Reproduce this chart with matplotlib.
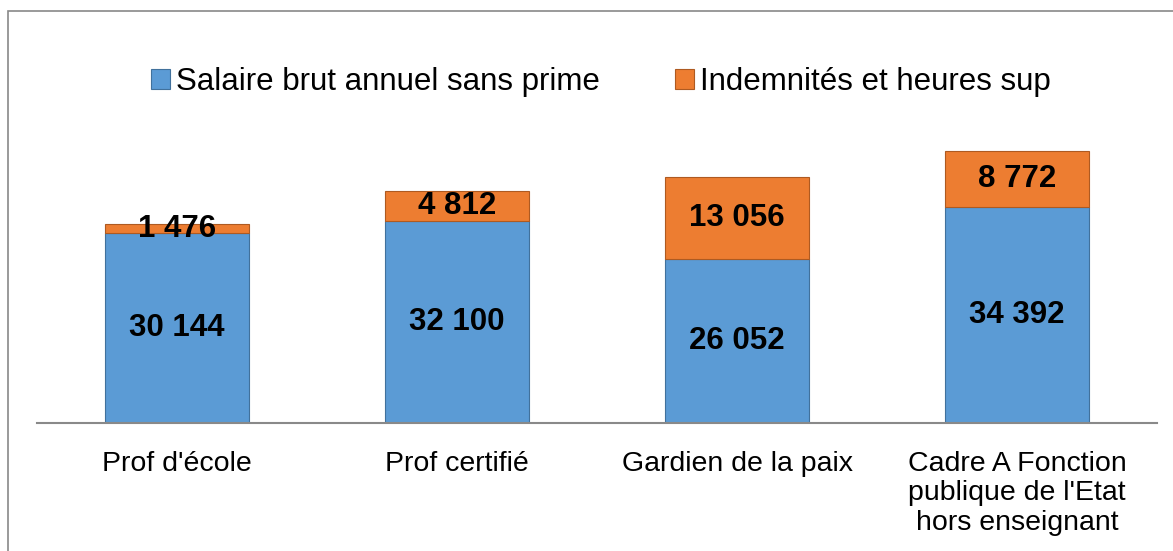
import numpy as np
import matplotlib.pyplot as plt
from matplotlib.patches import Rectangle

plt.rcParams['font.family'] = ['Liberation Sans', 'DejaVu Sans']

# données
categories = ["Prof d'école", "Prof certifié", "Gardien de la paix",
              "Cadre A Fonction\npublique de l'Etat\nhors enseignant"]
salaire = [30144, 32100, 26052, 34392]
indemnites = [1476, 4812, 13056, 8772]
series_names = ["Salaire brut annuel sans prime", "Indemnités et heures sup"]


def fmt(v):
    return f"{v:,}".replace(",", " ")


fig = plt.figure(figsize=(11.73, 5.51), dpi=100)
W, H = 1173, 551
# axes : x 37 -> 1157 px, y 120 -> 423 px (depuis le haut)
ax = fig.add_axes([37 / W, (H - 423) / H, 1120 / W, (423 - 120) / H])

x = np.arange(len(categories))
b1 = ax.bar(x, salaire, width=0.514, color='#5B9BD5', edgecolor='#41719C',
            linewidth=0.8, label=series_names[0])
b2 = ax.bar(x, indemnites, width=0.514, bottom=salaire, color='#ED7D31',
            edgecolor='#AE5A21', linewidth=0.8, label=series_names[1])

for i in range(len(categories)):
    ax.text(x[i], salaire[i] / 2, fmt(salaire[i]), ha='center', va='center',
            fontsize=22.5, fontweight='bold')
    ax.text(x[i], salaire[i] + indemnites[i] / 2, fmt(indemnites[i]),
            ha='center', va='center', fontsize=22.5, fontweight='bold')

ax.set_xlim(-0.5, 3.5)
ax.set_ylim(0, (423 - 120) / 0.00629)
ax.set_xticks(x)
ax.set_xticklabels(categories, fontsize=20.5, linespacing=1.17)
ax.tick_params(axis='x', length=0, pad=20)
ax.set_yticks([])
for s in ['top', 'right', 'left']:
    ax.spines[s].set_visible(False)
ax.spines['bottom'].set_color('#898989')
ax.spines['bottom'].set_linewidth(1.5)

leg = fig.legend(handles=[b1, b2], loc='center', bbox_to_anchor=(601 / W, 1 - 82 / H),
                 ncol=2, frameon=False, fontsize=22.5, handlelength=0.6,
                 handleheight=0.6, handletextpad=0.2, columnspacing=2.4)

# bordure du graphique
fig.patches.append(Rectangle((8 / W, -0.1), 1.2, 1 - 11 / H + 0.1,
                             transform=fig.transFigure, fill=False,
                             edgecolor='#898989', linewidth=1.2))

fig.savefig('out.png', dpi=100)
